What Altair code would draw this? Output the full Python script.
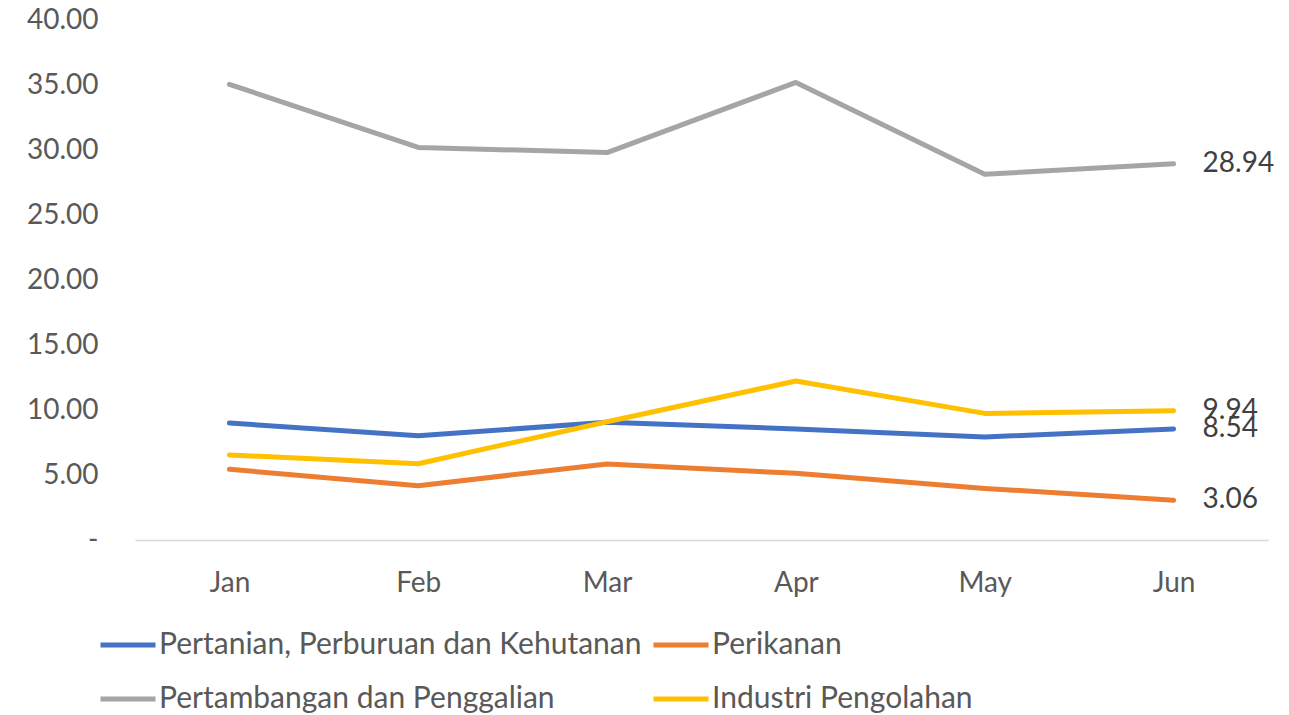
import altair as alt
import pandas as pd

months = ["Jan", "Feb", "Mar", "Apr", "May", "Jun"]
series_names = [
    "Pertanian, Perburuan dan Kehutanan",
    "Perikanan",
    "Pertambangan dan Penggalian",
    "Industri Pengolahan",
]
pertanian = [9.00, 8.02, 9.05, 8.54, 7.92, 8.54]
perikanan = [5.44, 4.18, 5.85, 5.13, 3.97, 3.06]
pertambangan = [35.05, 30.20, 29.80, 35.20, 28.13, 28.94]
industri = [6.54, 5.87, 9.10, 12.23, 9.74, 9.94]
colors = ["#4472C4", "#ED7D31", "#A5A5A5", "#FFC000"]
y_ticks = [0, 5, 10, 15, 20, 25, 30, 35, 40]

rows = []
for name, vals in zip(series_names, [pertanian, perikanan, pertambangan, industri]):
    for m, v in zip(months, vals):
        rows.append({"month": m, "series": name, "value": v})
df = pd.DataFrame(rows)

FONT = "Lato"

x = alt.X(
    "month:N",
    sort=months,
    scale=alt.Scale(type="point", padding=0.5),
    axis=alt.Axis(
        title=None,
        labelAngle=0,
        labelFontSize=28,
        labelColor="#595959",
        labelPadding=29,
        ticks=False,
        grid=False,
        domainColor="#D9D9D9",
        domainWidth=1.5,
    ),
)
y = alt.Y(
    "value:Q",
    scale=alt.Scale(domain=[0, 40], nice=False),
    axis=alt.Axis(
        title=None,
        values=y_ticks,
        labelExpr="datum.value == 0 ? '-' : format(datum.value, '.2f')",
        labelFontSize=28,
        labelColor="#595959",
        labelPadding=37,
        ticks=False,
        grid=False,
        domain=False,
    ),
)
color = alt.Color(
    "series:N",
    sort=series_names,
    scale=alt.Scale(domain=series_names, range=colors),
    legend=alt.Legend(
        title=None,
        orient="none",
        legendX=-37,
        legendY=595,
        direction="horizontal",
        columns=2,
        symbolType="stroke",
        symbolSize=3025,
        symbolStrokeWidth=5,
        labelFontSize=30,
        labelColor="#595959",
        labelOffset=1,
        columnPadding=1,
        rowPadding=9,
        labelLimit=800,
    ),
)

lines = alt.Chart(df).mark_line(strokeWidth=5, strokeCap="round", strokeJoin="round").encode(
    x=x, y=y, color=color, detail="series:N"
)

labels = alt.Chart(df).transform_filter(alt.datum.month == "Jun").mark_text(
    align="left", baseline="middle", dx=29, fontSize=28, color="#404040", font=FONT
).encode(
    x=alt.X("month:N", sort=months, scale=alt.Scale(type="point", padding=0.5)),
    y=alt.Y("value:Q", scale=alt.Scale(domain=[0, 40], nice=False)),
    text=alt.Text("value:Q", format=".2f"),
)

chart = (
    alt.layer(lines, labels)
    .properties(
        width=1133,
        height=520,
        autosize=alt.AutoSizeParams(type="none"),
        padding={"left": 127, "top": 12, "right": 10, "bottom": 180},
    )
    .configure(font=FONT)
    .configure_view(stroke=None)
)

chart.save("out.html", embed_options={"renderer": "svg", "actions": False})
